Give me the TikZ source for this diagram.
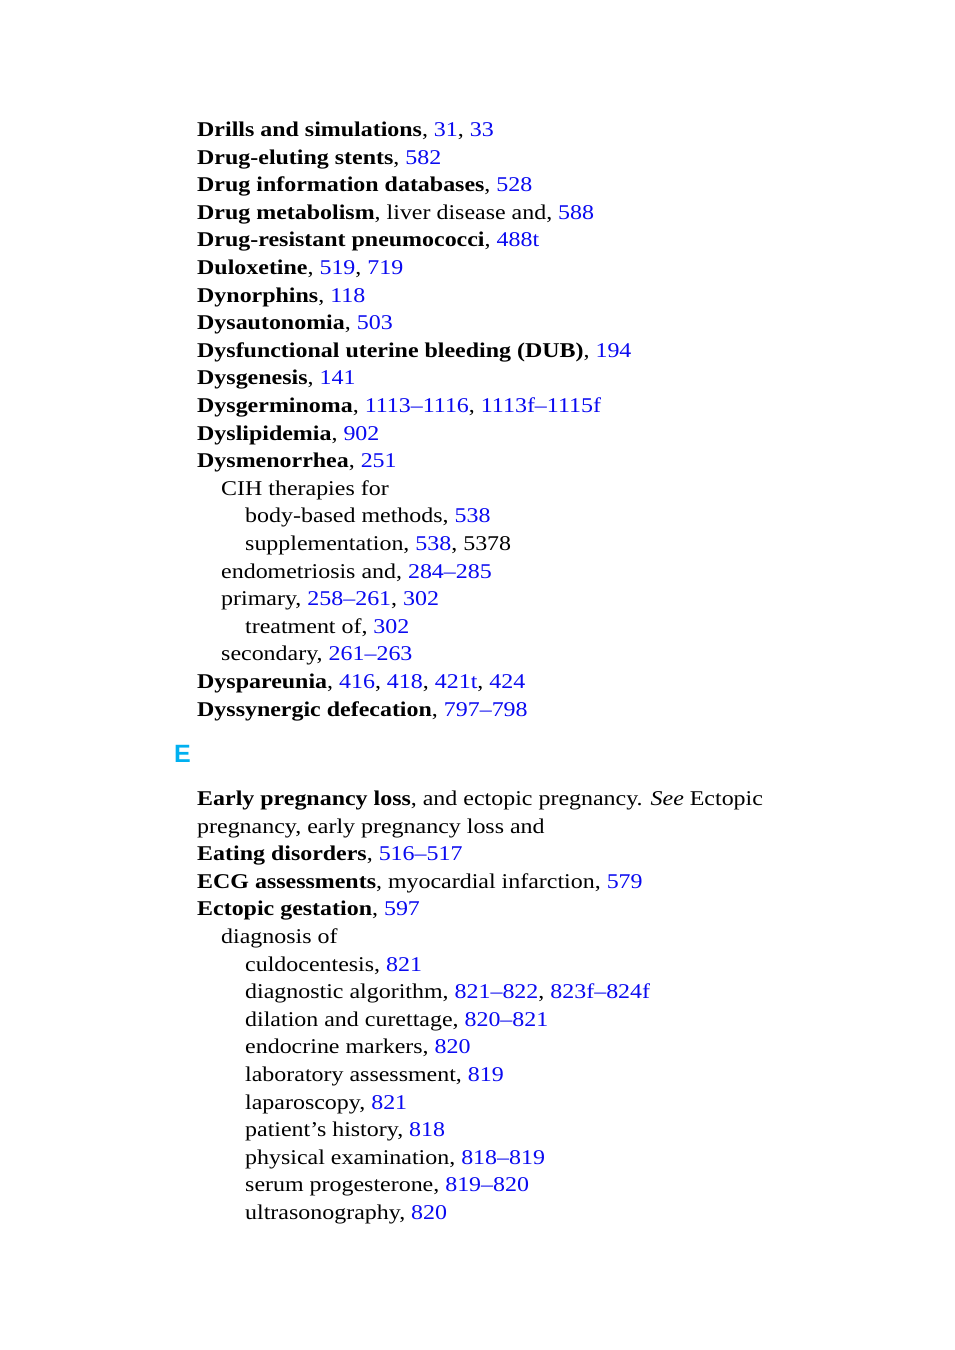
\documentclass[tikz,border=0pt]{standalone}
\usepackage{fontspec}
\setmainfont{Liberation Serif}[FakeStretch=1.14]
\newfontfamily\headfont{Liberation Sans}
\usepackage{tikz}
\definecolor{pagenum}{RGB}{10,10,240}
\definecolor{letterblue}{RGB}{0,176,240}
\newcommand\pg[1]{\textcolor{pagenum}{#1}}
\tikzset{
	entry/.style={anchor=base west, inner sep=0pt, font=\fontsize{21bp}{25bp}\selectfont},
	head/.style={anchor=base west, inner sep=0pt, text=letterblue, font=\headfont\bfseries\fontsize{25bp}{30bp}\selectfont}
}

\begin{document}
\begin{tikzpicture}[x=1bp,y=-1bp]
			%%%%% START %%%%%
			
			\useasboundingbox[fill=white] (0, 0) rectangle (954, 1350);
			
			\node[entry] (drills) at (197, 136.5) {\textbf{Drills and simulations}, \pg{31}, \pg{33}};
			\node[entry] (stents) at (197, 164.1) {\textbf{Drug-eluting stents}, \pg{582}};
			\node[entry] (databases) at (197, 191.7) {\textbf{Drug information databases}, \pg{528}};
			\node[entry] (metabolism) at (197, 219.3) {\textbf{Drug metabolism}, liver disease and, \pg{588}};
			\node[entry] (pneumococci) at (197, 246.9) {\textbf{Drug-resistant pneumococci}, \pg{488t}};
			\node[entry] (duloxetine) at (197, 274.5) {\textbf{Duloxetine}, \pg{519}, \pg{719}};
			\node[entry] (dynorphins) at (197, 302.1) {\textbf{Dynorphins}, \pg{118}};
			\node[entry] (dysautonomia) at (197, 329.7) {\textbf{Dysautonomia}, \pg{503}};
			\node[entry] (dub) at (197, 357.3) {\textbf{Dysfunctional uterine bleeding (DUB)}, \pg{194}};
			\node[entry] (dysgenesis) at (197, 384.9) {\textbf{Dysgenesis}, \pg{141}};
			\node[entry] (dysgerminoma) at (197, 412.5) {\textbf{Dysgerminoma}, \pg{1113–1116}, \pg{1113f–1115f}};
			\node[entry] (dyslipidemia) at (197, 440.1) {\textbf{Dyslipidemia}, \pg{902}};
			\node[entry] (dysmenorrhea) at (197, 467.7) {\textbf{Dysmenorrhea}, \pg{251}};
			\node[entry] (cih) at (221, 495.3) {CIH therapies for};
			\node[entry] (bodybased) at (245, 522.9) {body-based methods, \pg{538}};
			\node[entry] (supplement) at (245, 550.5) {supplementation, \pg{538}, 5378};
			\node[entry] (endometriosis) at (221, 578.1) {endometriosis and, \pg{284–285}};
			\node[entry] (primary) at (221, 605.7) {primary, \pg{258–261}, \pg{302}};
			\node[entry] (treatment) at (245, 633.3) {treatment of, \pg{302}};
			\node[entry] (secondary) at (221, 660.9) {secondary, \pg{261–263}};
			\node[entry] (dyspareunia) at (197, 688.5) {\textbf{Dyspareunia}, \pg{416}, \pg{418}, \pg{421t}, \pg{424}};
			\node[entry] (dyssynergic) at (197, 716.1) {\textbf{Dyssynergic defecation}, \pg{797–798}};
			
			\node[head] (letterE) at (174, 762.5) {E};
			
			\node[entry] (earlyloss) at (197, 805.5) {\textbf{Early pregnancy loss}, and ectopic pregnancy. \textit{See} Ectopic};
			\node[entry] (earlylosscont) at (197, 833.1) {pregnancy, early pregnancy loss and};
			\node[entry] (eating) at (197, 860.7) {\textbf{Eating disorders}, \pg{516–517}};
			\node[entry] (ecg) at (197, 888.3) {\textbf{ECG assessments}, myocardial infarction, \pg{579}};
			\node[entry] (ectopic) at (197, 915.9) {\textbf{Ectopic gestation}, \pg{597}};
			\node[entry] (diagnosis) at (221, 943.5) {diagnosis of};
			\node[entry] (culdo) at (245, 971.1) {culdocentesis, \pg{821}};
			\node[entry] (algorithm) at (245, 998.7) {diagnostic algorithm, \pg{821–822}, \pg{823f–824f}};
			\node[entry] (dilation) at (245, 1026.3) {dilation and curettage, \pg{820–821}};
			\node[entry] (endocrine) at (245, 1053.9) {endocrine markers, \pg{820}};
			\node[entry] (laboratory) at (245, 1081.5) {laboratory assessment, \pg{819}};
			\node[entry] (laparoscopy) at (245, 1109.1) {laparoscopy, \pg{821}};
			\node[entry] (history) at (245, 1136.7) {patient’s history, \pg{818}};
			\node[entry] (physical) at (245, 1164.3) {physical examination, \pg{818–819}};
			\node[entry] (progesterone) at (245, 1191.9) {serum progesterone, \pg{819–820}};
			\node[entry] (ultrasound) at (245, 1219.5) {ultrasonography, \pg{820}};
			
			%%%%% END %%%%%
\end{tikzpicture}
\end{document}
